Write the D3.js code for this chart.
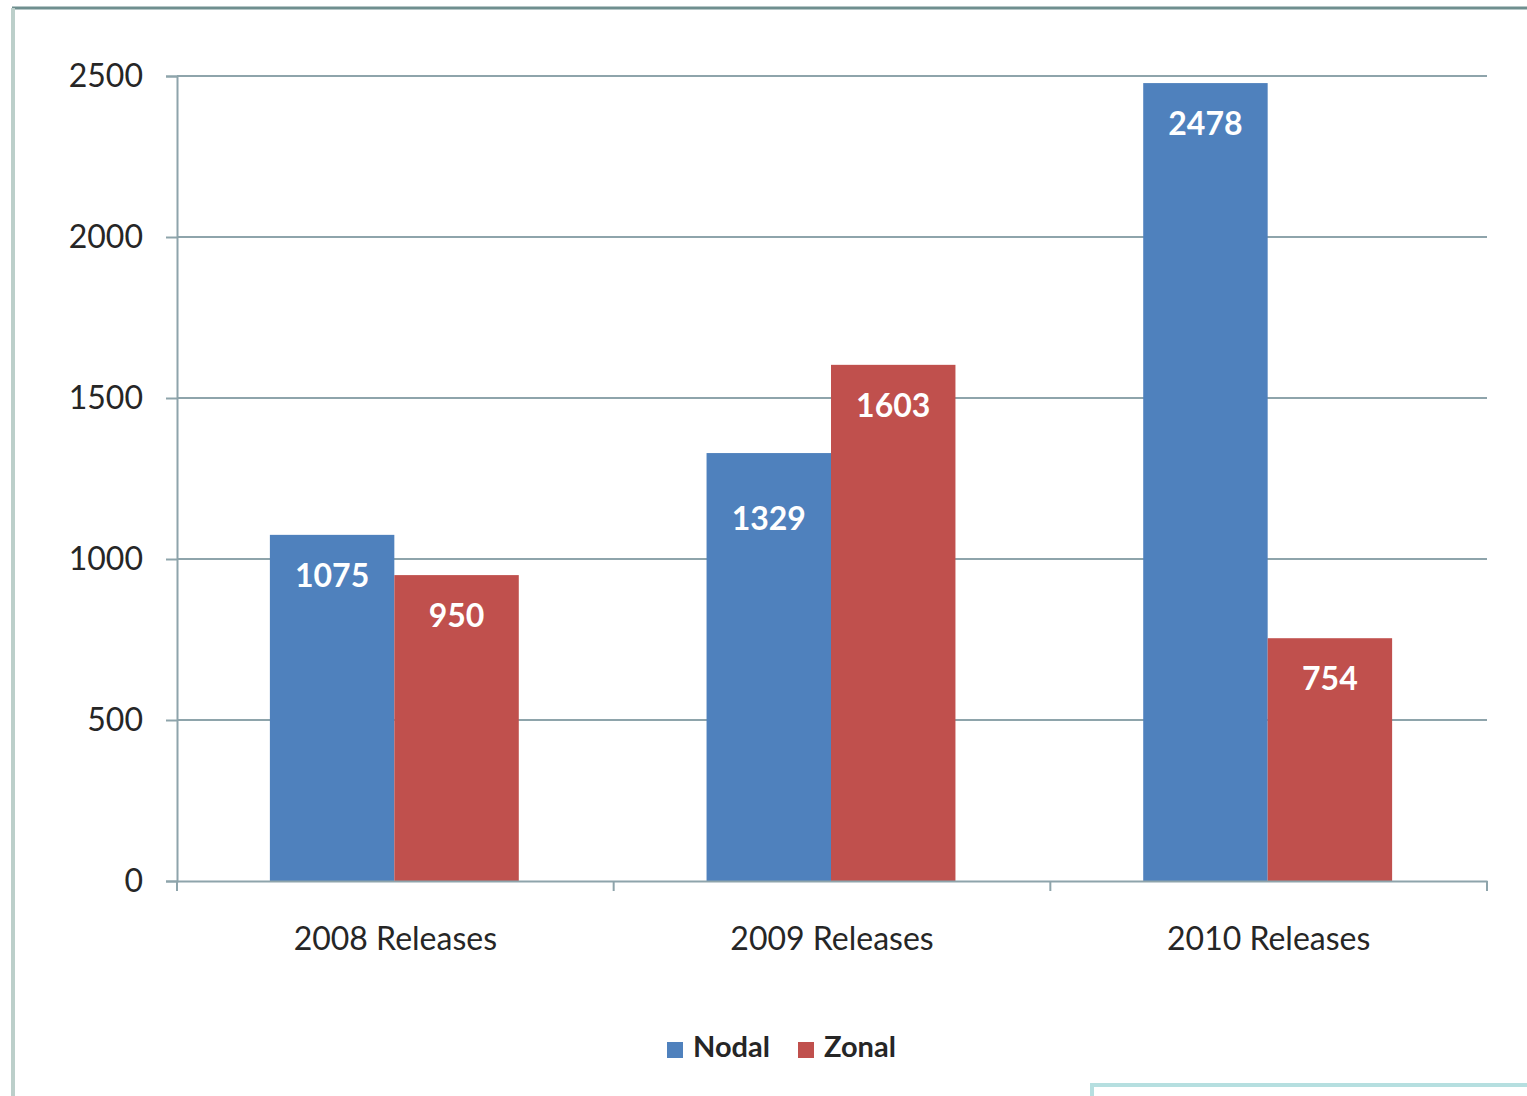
<!DOCTYPE html>
<html>
<head>
<meta charset="utf-8">
<script src="https://cdn.jsdelivr.net/npm/d3@7"></script>
<style>
  html, body { margin: 0; padding: 0; background: #fff; }
  svg { display: block; }
</style>
</head>
<body>
<script>
// Release counts per year, split by market model
const categories = ["2008 Releases", "2009 Releases", "2010 Releases"];
const seriesNames = ["Nodal", "Zonal"];
const nodalValues = [1075, 1329, 2478];
const zonalValues = [950, 1603, 754];
const yTicks = [0, 500, 1000, 1500, 2000, 2500];

const W = 1527, H = 1096;
const colors = { Nodal: "#4f81bd", Zonal: "#c0504d" };
const font = "Lato, 'Open Sans', 'Liberation Sans', sans-serif";

const svg = d3.select("body").append("svg").attr("width", W).attr("height", H);

// Slide frame lines
svg.append("line").attr("x1", 12).attr("x2", W).attr("y1", 8).attr("y2", 8)
  .attr("stroke", "#6f8f8f").attr("stroke-width", 3);
svg.append("line").attr("x1", 13).attr("x2", 13).attr("y1", 8).attr("y2", H)
  .attr("stroke", "#bccfca").attr("stroke-width", 4);
svg.append("path").attr("d", `M1092,${H} V1085 H${W}`)
  .attr("fill", "none").attr("stroke", "#b6dfe0").attr("stroke-width", 4);

const plot = { left: 177, right: 1487, top: 76, bottom: 881 };

const x = d3.scaleBand().domain(categories).range([plot.left, plot.right]).paddingInner(0).paddingOuter(0);
const groupPad = 0.215;
const x1 = d3.scaleBand().domain(seriesNames)
  .range([x.bandwidth() * groupPad - 1, x.bandwidth() * (1 - groupPad) - 1]);
const y = d3.scaleLinear().domain([0, 2500]).range([plot.bottom, plot.top]);

const gridColor = "#8ea4ab";

// Horizontal gridlines
svg.append("g").selectAll("line").data(yTicks.filter(d => d > 0)).join("line")
  .attr("x1", plot.left).attr("x2", plot.right)
  .attr("y1", d => y(d)).attr("y2", d => y(d))
  .attr("stroke", gridColor).attr("stroke-width", 2);

// Y axis
const yAxis = svg.append("g").attr("transform", `translate(${plot.left},0)`)
  .call(d3.axisLeft(y).tickValues(yTicks).tickSize(11).tickPadding(23).tickFormat(d3.format("d")));
yAxis.select(".domain").attr("stroke", gridColor).attr("stroke-width", 2);
yAxis.selectAll(".tick line").attr("stroke", gridColor).attr("stroke-width", 2);
yAxis.selectAll("text").attr("font-family", font).attr("font-size", 32).attr("fill", "#262626");

// Bars
const data = categories.map((c, i) => ({ cat: c, Nodal: nodalValues[i], Zonal: zonalValues[i] }));
// Label nudge (px) for the one label that sits lower inside its bar
const labelNudge = { "2009 Releases|Nodal": 25 };
const groups = svg.append("g").selectAll("g").data(data).join("g")
  .attr("transform", d => `translate(${x(d.cat)},0)`);
const bars = groups.selectAll("g")
  .data(d => seriesNames.map(k => ({ cat: d.cat, key: k, value: d[k] }))).join("g");
bars.append("rect")
  .attr("x", d => x1(d.key)).attr("width", x1.bandwidth())
  .attr("y", d => y(d.value)).attr("height", d => y(0) - y(d.value))
  .attr("fill", d => colors[d.key]);
bars.append("text")
  .attr("x", d => x1(d.key) + x1.bandwidth() / 2)
  .attr("y", d => y(d.value) + 44 + (labelNudge[d.cat + "|" + d.key] || 0))
  .attr("text-anchor", "middle").attr("dominant-baseline", "middle")
  .attr("font-family", font).attr("font-weight", "bold").attr("font-size", 32)
  .attr("fill", "#fff")
  .text(d => d.value);

// X axis
const xAxis = svg.append("g").attr("transform", `translate(0,${plot.bottom})`)
  .call(d3.axisBottom(x).tickSize(0).tickPadding(46));
xAxis.select(".domain").attr("stroke", gridColor).attr("stroke-width", 2);
xAxis.selectAll("text").attr("font-family", font).attr("font-size", 32).attr("fill", "#262626");
// Category boundary ticks
const boundaries = [plot.left, ...categories.map(c => x(c) + x.bandwidth())];
svg.append("g").selectAll("line").data(boundaries).join("line")
  .attr("x1", d => d).attr("x2", d => d)
  .attr("y1", plot.bottom).attr("y2", plot.bottom + 10)
  .attr("stroke", gridColor).attr("stroke-width", 2);

// Legend
const legend = svg.append("g").attr("transform", "translate(667,1050)");
const legendX = [0, 131];
seriesNames.forEach((name, i) => {
  const g = legend.append("g").attr("transform", `translate(${legendX[i]},0)`);
  g.append("rect").attr("x", 0).attr("y", -8).attr("width", 16).attr("height", 16).attr("fill", colors[name]);
  g.append("text").attr("x", 26).attr("y", 0).attr("dominant-baseline", "middle")
    .attr("font-family", font).attr("font-size", 29).attr("font-weight", "bold")
    .attr("fill", "#262626").text(name);
});
</script>
</body>
</html>
